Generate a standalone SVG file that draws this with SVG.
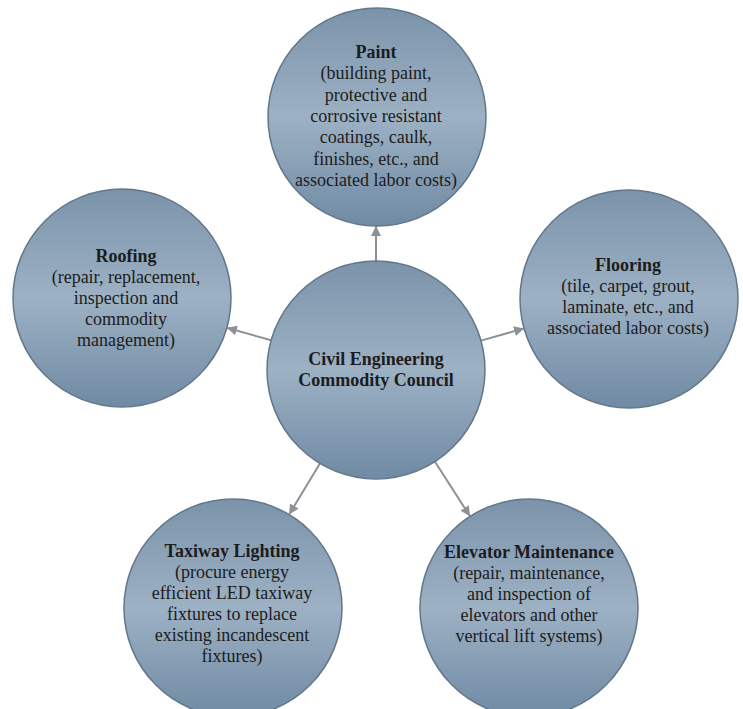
<svg xmlns="http://www.w3.org/2000/svg" width="743" height="709" viewBox="0 0 743 709">
<style>
.node circle{fill:url(#g);stroke:#62778b;stroke-width:1.5}
text{font-family:"Liberation Serif","Times New Roman",serif;font-size:18px;fill:#1c1c1c;text-anchor:middle}
.b{font-weight:bold}
.conn line{stroke:#8d9196;stroke-width:2;marker-end:url(#ah)}
</style>
<defs>
<linearGradient id="g" x1="0" y1="0" x2="0" y2="1">
<stop offset="0" stop-color="#7b93aa"/>
<stop offset="0.5" stop-color="#9db1c4"/>
<stop offset="1" stop-color="#6f8aa3"/>
</linearGradient>
<marker id="ah" markerUnits="userSpaceOnUse" markerWidth="11" markerHeight="10" refX="10" refY="5" orient="auto">
<path d="M0,0 L10,5 L0,10 Z" fill="#8d9196"/>
</marker>
</defs>
<rect width="743" height="709" fill="#ffffff"/>
<g class="conn" id="connectors">
<line x1="376" y1="261" x2="376" y2="226"/>
<line x1="271.1" y1="340.3" x2="226.9" y2="327.7"/>
<line x1="481" y1="340.6" x2="524.1" y2="328.4"/>
<line x1="319.9" y1="463.4" x2="289.1" y2="514.6"/>
<line x1="435" y1="461.7" x2="470" y2="516.3"/>
</g>
<g class="node" id="paint">
<circle cx="377" cy="117" r="109"/>
<text x="376" y="58" class="b">Paint</text>
<text x="376" y="79">(building paint,</text>
<text x="376" y="101">protective and</text>
<text x="376" y="122">corrosive resistant</text>
<text x="376" y="143">coatings, caulk,</text>
<text x="376" y="165">finishes, etc., and</text>
<text x="376" y="186">associated labor costs)</text>
</g>
<g class="node" id="roofing">
<circle cx="122" cy="298" r="109"/>
<text x="126" y="262" class="b">Roofing</text>
<text x="126" y="283">(repair, replacement,</text>
<text x="126" y="304">inspection and</text>
<text x="126" y="325">commodity</text>
<text x="126" y="346">management)</text>
</g>
<g class="node" id="flooring">
<circle cx="629" cy="299" r="109"/>
<text x="628" y="271" class="b">Flooring</text>
<text x="628" y="292">(tile, carpet, grout,</text>
<text x="628" y="313">laminate, etc., and</text>
<text x="628" y="334">associated labor costs)</text>
</g>
<g class="node" id="council">
<circle cx="376" cy="370" r="109"/>
<text x="376" y="365" class="b">Civil Engineering</text>
<text x="376" y="386" class="b">Commodity Council</text>
</g>
<g class="node" id="taxiway">
<circle cx="233" cy="608" r="109"/>
<text x="232" y="557" class="b">Taxiway Lighting</text>
<text x="232" y="578">(procure energy</text>
<text x="232" y="599">efficient LED taxiway</text>
<text x="232" y="620">fixtures to replace</text>
<text x="232" y="641">existing incandescent</text>
<text x="232" y="662">fixtures)</text>
</g>
<g class="node" id="elevator">
<circle cx="529" cy="608" r="109"/>
<text x="529" y="558" class="b">Elevator Maintenance</text>
<text x="529" y="579">(repair, maintenance,</text>
<text x="529" y="600">and inspection of</text>
<text x="529" y="621">elevators and other</text>
<text x="529" y="642">vertical lift systems)</text>
</g>
</svg>
